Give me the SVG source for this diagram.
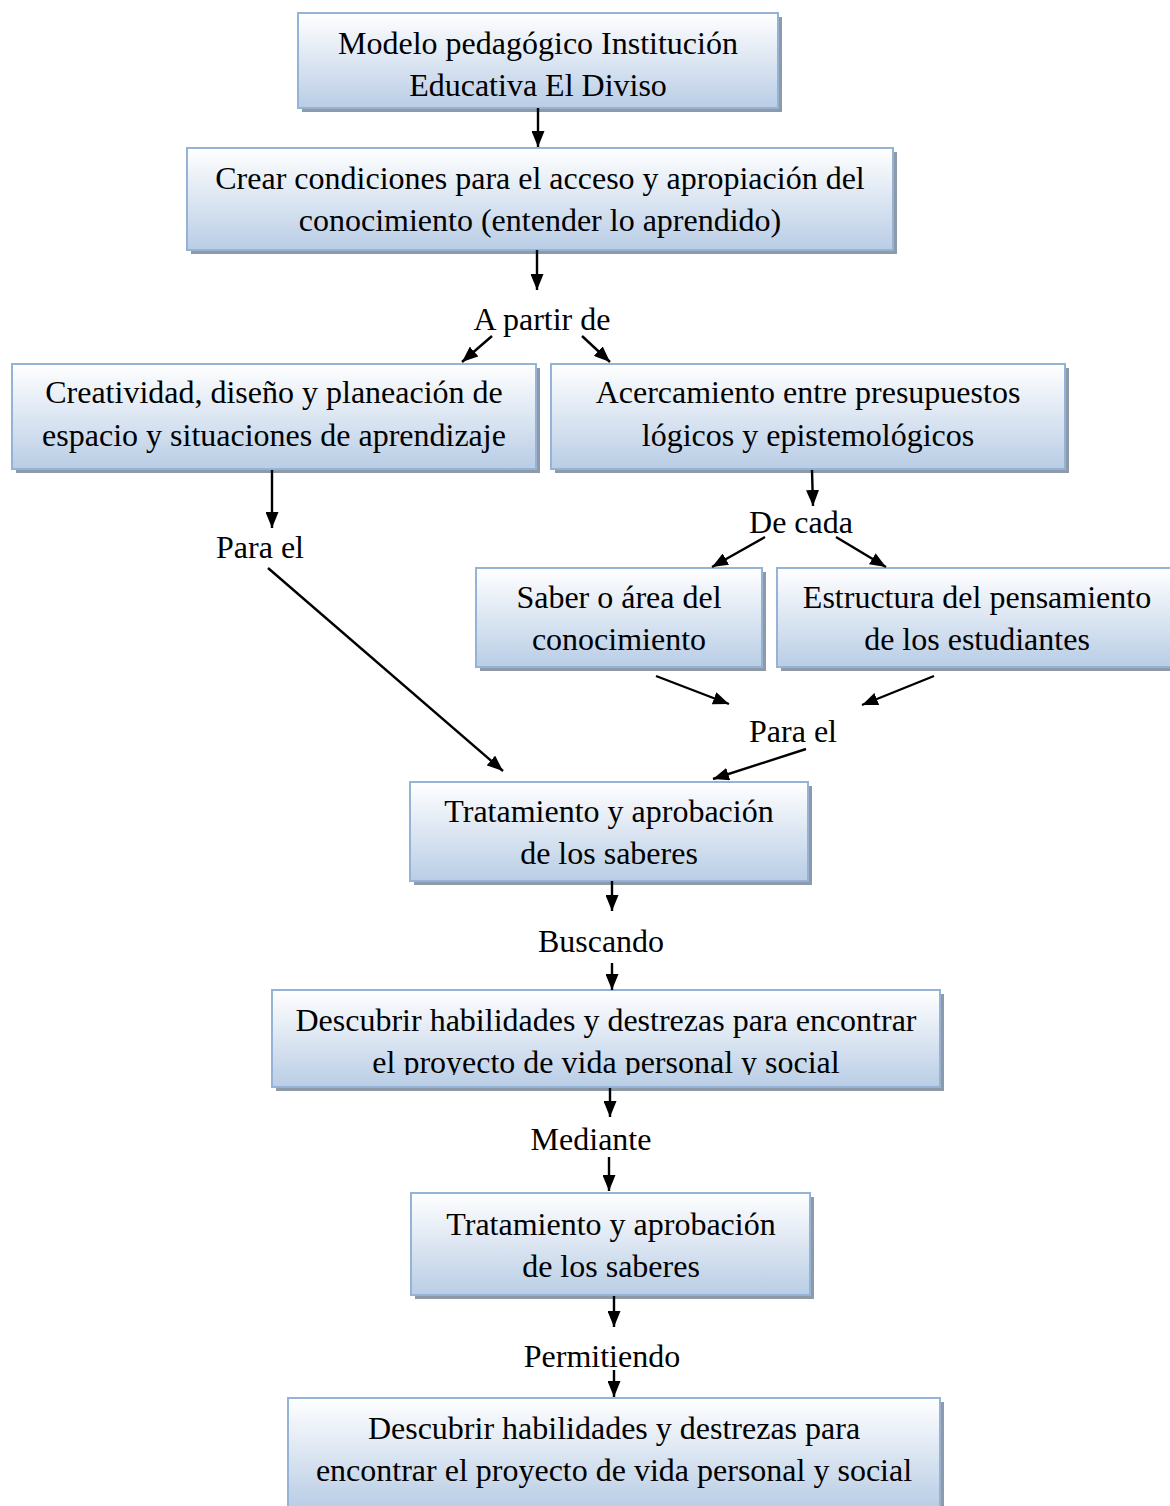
<svg xmlns="http://www.w3.org/2000/svg" width="1170" height="1506" viewBox="0 0 1170 1506">
<style>
.box{fill:url(#g);stroke:#95b3d7;stroke-width:2}
.sh{fill:#8e9aa8}
text{font-family:"Liberation Serif","Times New Roman",serif;font-size:32px;fill:#000;text-anchor:middle}
</style>
<defs>
<linearGradient id="g" x1="0" y1="0" x2="0" y2="1">
<stop offset="0" stop-color="#ffffff"/>
<stop offset="1" stop-color="#b9cde5"/>
</linearGradient>
<marker id="b" viewBox="0 0 16 13" refX="16" refY="6.5" markerWidth="16" markerHeight="13" markerUnits="userSpaceOnUse" orient="auto">
<path d="M0,0 L16,6.5 L0,13 z" fill="#000"/>
</marker>
<clipPath id="clip8"><rect x="272" y="990" width="668" height="85"/></clipPath>
</defs>

<g id="n1">
<rect class="sh" x="302" y="17" width="480" height="95"/>
<rect class="box" x="298" y="13" width="480" height="95"/>
<text x="538" y="54">Modelo pedagógico Institución</text>
<text x="538" y="96">Educativa El Diviso</text>
</g>
<g id="n2">
<rect class="sh" x="191" y="152" width="706" height="102"/>
<rect class="box" x="187" y="148" width="706" height="102"/>
<text x="540" y="189">Crear condiciones para el acceso y apropiación del</text>
<text x="540" y="231">conocimiento (entender lo aprendido)</text>
</g>
<g id="l1"><text x="542" y="330">A partir de</text></g>
<g id="n3">
<rect class="sh" x="16" y="368" width="524" height="105"/>
<rect class="box" x="12" y="364" width="524" height="105"/>
<text x="274" y="403">Creatividad, diseño y planeación de</text>
<text x="274" y="446">espacio y situaciones de aprendizaje</text>
</g>
<g id="n4">
<rect class="sh" x="555" y="368" width="514" height="105"/>
<rect class="box" x="551" y="364" width="514" height="105"/>
<text x="808" y="403">Acercamiento entre presupuestos</text>
<text x="808" y="446">lógicos y epistemológicos</text>
</g>
<g id="l2"><text x="260" y="558">Para el</text></g>
<g id="l3"><text x="801" y="533">De cada</text></g>
<g id="n5">
<rect class="sh" x="480" y="572" width="286" height="99"/>
<rect class="box" x="476" y="568" width="286" height="99"/>
<text x="619" y="608">Saber o área del</text>
<text x="619" y="650">conocimiento</text>
</g>
<g id="n6">
<rect class="sh" x="781" y="572" width="393" height="99"/>
<rect class="box" x="777" y="568" width="400" height="99"/>
<text x="977" y="608">Estructura del pensamiento</text>
<text x="977" y="650">de los estudiantes</text>
</g>
<g id="l4"><text x="793" y="742">Para el</text></g>
<g id="n7">
<rect class="sh" x="414" y="786" width="398" height="99"/>
<rect class="box" x="410" y="782" width="398" height="99"/>
<text x="609" y="822">Tratamiento y aprobación</text>
<text x="609" y="864">de los saberes</text>
</g>
<g id="l5"><text x="601" y="952">Buscando</text></g>
<g id="n8">
<rect class="sh" x="276" y="994" width="668" height="97"/>
<rect class="box" x="272" y="990" width="668" height="97"/>
<g clip-path="url(#clip8)">
<text x="606" y="1031">Descubrir habilidades y destrezas para encontrar</text>
<text x="606" y="1073">el proyecto de vida personal y social</text>
</g>
</g>
<g id="l6"><text x="591" y="1150">Mediante</text></g>
<g id="n9">
<rect class="sh" x="415" y="1197" width="399" height="102"/>
<rect class="box" x="411" y="1193" width="399" height="102"/>
<text x="611" y="1235">Tratamiento y aprobación</text>
<text x="611" y="1277">de los saberes</text>
</g>
<g id="l7"><text x="602" y="1367">Permitiendo</text></g>
<g id="n10">
<rect class="sh" x="292" y="1402" width="652" height="110"/>
<rect class="box" x="288" y="1398" width="652" height="110"/>
<text x="614" y="1439">Descubrir habilidades y destrezas para</text>
<text x="614" y="1481">encontrar el proyecto de vida personal y social</text>
</g>

<g id="connectors" stroke="#000" stroke-width="2.4" fill="none">
<line x1="538" y1="108" x2="538" y2="147" marker-end="url(#b)"/>
<line x1="537" y1="250" x2="537" y2="290" marker-end="url(#b)"/>
<line x1="492" y1="336" x2="462" y2="362" marker-end="url(#b)"/>
<line x1="582" y1="336" x2="610" y2="362" marker-end="url(#b)"/>
<line x1="272" y1="470" x2="272" y2="528" marker-end="url(#b)"/>
<line x1="812" y1="470" x2="813" y2="506" marker-end="url(#b)"/>
<line x1="765" y1="537" x2="712" y2="567" marker-end="url(#b)"/>
<line x1="836" y1="537" x2="886" y2="567" marker-end="url(#b)"/>
<line x1="268" y1="568" x2="503" y2="771" marker-end="url(#b)"/>
<line x1="656" y1="676" x2="729" y2="704" marker-end="url(#b)"/>
<line x1="934" y1="676" x2="862" y2="705" marker-end="url(#b)"/>
<line x1="806" y1="749" x2="713" y2="779" marker-end="url(#b)"/>
<line x1="612" y1="881" x2="612" y2="911" marker-end="url(#b)"/>
<line x1="612" y1="963" x2="612" y2="990" marker-end="url(#b)"/>
<line x1="610" y1="1088" x2="610" y2="1117" marker-end="url(#b)"/>
<line x1="609" y1="1157" x2="609" y2="1191" marker-end="url(#b)"/>
<line x1="614" y1="1296" x2="614" y2="1327" marker-end="url(#b)"/>
<line x1="614" y1="1370" x2="614" y2="1397" marker-end="url(#b)"/>
</g>
</svg>
